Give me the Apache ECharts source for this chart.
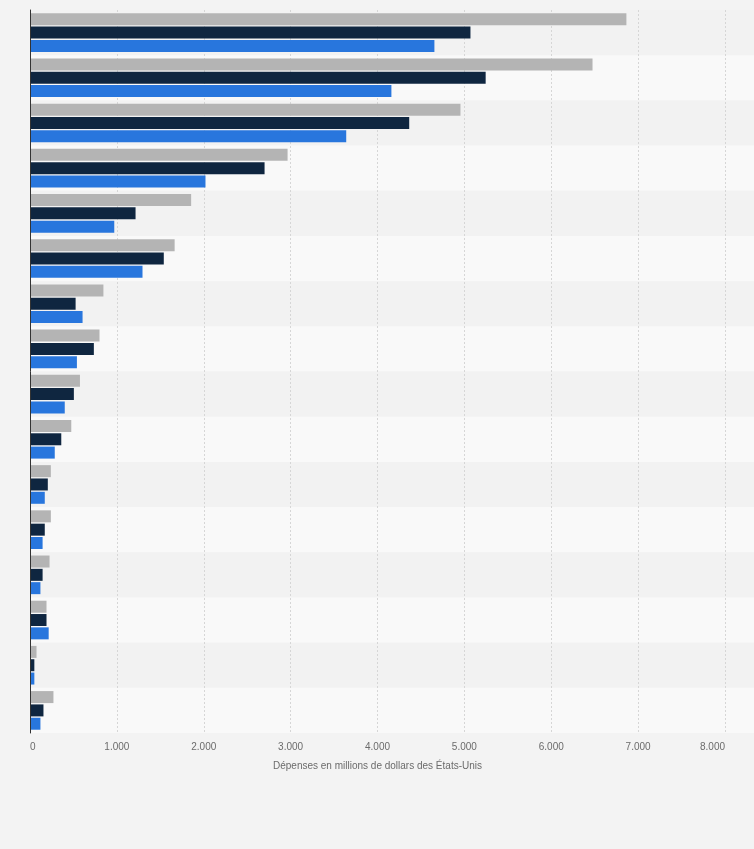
<!DOCTYPE html>
<html>
<head>
<meta charset="utf-8">
<script src="https://cdn.jsdelivr.net/npm/echarts@6/dist/echarts.min.js"></script>
<style>
  html, body { margin: 0; padding: 0; background: #f3f3f3; }
  #chart { width: 754px; height: 849px; }
</style>
</head>
<body>
<div id="chart"></div>
<script>
const categories = ['Catégorie 1','Catégorie 2','Catégorie 3','Catégorie 4','Catégorie 5','Catégorie 6','Catégorie 7','Catégorie 8','Catégorie 9','Catégorie 10','Catégorie 11','Catégorie 12','Catégorie 13','Catégorie 14','Catégorie 15','Catégorie 16'];
const seriesNames = ['Série 1', 'Série 2', 'Série 3'];
const valuesGray = [6865, 6475, 4955, 2965, 1855, 1665, 845, 800, 575, 475, 240, 240, 225, 190, 75, 270];
const valuesNavy = [5070, 5245, 4365, 2700, 1215, 1540, 525, 735, 505, 360, 205, 170, 145, 190, 50, 155];
const valuesBlue = [4655, 4160, 3640, 2020, 970, 1295, 605, 540, 400, 285, 170, 145, 120, 215, 50, 120];
const xTicks = { min: 0, max: 8000, interval: 1000 };
const axisTitle = 'Dépenses en millions de dollars des États-Unis';

const colors = ['#b4b4b4', '#0f2640', '#2876dd'];
const dataSets = [valuesGray, valuesNavy, valuesBlue];

const chart = echarts.init(document.getElementById('chart'), null, { renderer: 'canvas' });

const fmt = v => String(v).replace(/\B(?=(\d{3})+(?!\d))/g, '.');

const option = {
  backgroundColor: '#f3f3f3',
  animation: false,
  grid: [
    { left: 30, right: 29, top: 10, bottom: 116, containLabel: false },
    { left: 30, right: 0, top: 10, bottom: 116, containLabel: false }
  ],
  xAxis: [
    {
      type: 'value', gridIndex: 0, min: xTicks.min, max: xTicks.max, interval: xTicks.interval,
      z: 3,
      axisLine: { show: false }, axisTick: { show: false },
      axisLabel: {
        formatter: fmt, color: '#6b6b6b', fontSize: 10, fontFamily: 'Arial, Liberation Sans, sans-serif',
        margin: 9, alignMinLabel: 'left', alignMaxLabel: 'right'
      },
      splitLine: { show: true, lineStyle: { color: '#d6d6d6', type: [2, 2], width: 1 } },
      name: axisTitle, nameLocation: 'middle', nameGap: 28,
      nameTextStyle: { color: '#6b6b6b', fontSize: 10, fontFamily: 'Arial, Liberation Sans, sans-serif' }
    },
    { type: 'value', gridIndex: 1, min: 0, max: 1, show: false }
  ],
  yAxis: [
    {
      type: 'category', gridIndex: 0, data: categories, inverse: true, z: 8,
      axisLine: { show: true, lineStyle: { color: '#333', width: 1 } },
      axisTick: { show: false }, axisLabel: { show: false }, splitLine: { show: false }
    },
    {
      type: 'category', gridIndex: 1, data: categories, inverse: true, z: 0,
      axisLine: { show: false }, axisTick: { show: false }, axisLabel: { show: false },
      splitArea: { show: true, areaStyle: { color: ['#f2f2f2', '#f9f9f9'] } }
    }
  ],
  series: dataSets.map((d, i) => ({
    name: seriesNames[i], type: 'bar', xAxisIndex: 0, yAxisIndex: 0,
    data: d, barWidth: 12, barGap: '11%', z: 5,
    itemStyle: { color: colors[i] }
  }))
};
chart.setOption(option);
</script>
</body>
</html>
